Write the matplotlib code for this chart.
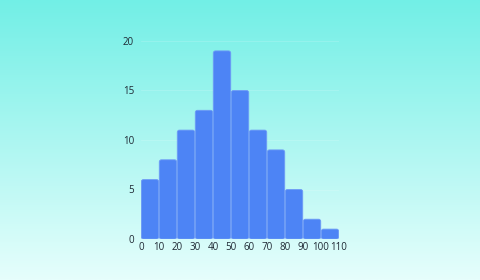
import numpy as np
import matplotlib.pyplot as plt
from matplotlib.patches import FancyBboxPatch

# Histogram data
bin_edges = [0, 10, 20, 30, 40, 50, 60, 70, 80, 90, 100, 110]
counts = [6, 8, 11, 13, 19, 15, 11, 9, 5, 2, 1]
y_ticks = [0, 5, 10, 15, 20]

plt.rcParams['font.family'] = ['Open Sans', 'DejaVu Sans']

fig = plt.figure(figsize=(4.8, 2.8), dpi=100)

# Background gradient
bg = fig.add_axes([0, 0, 1, 1], zorder=0)
top = np.array([0x72, 0xef, 0xe6]) / 255
bottom = np.array([0xe6, 0xfe, 0xfc]) / 255
t = np.linspace(0, 1, 256)[:, None]
grad = top * (1 - t) + bottom * t
bg.imshow(grad[:, None, :], aspect='auto', extent=[0, 1, 0, 1])
bg.axis('off')

ax = fig.add_axes([141 / 480, 1 - 239 / 280, 198 / 480, 198 / 280], zorder=1)
ax.patch.set_alpha(0)

widths = np.diff(bin_edges)
bars = ax.bar(bin_edges[:-1], counts, width=widths, align='edge',
              color='#4d84f5', linewidth=0)

# swap the plain bars for slightly rounded ones
for b in bars:
    x, y = b.get_xy()
    w, h = b.get_width(), b.get_height()
    b.set_visible(False)
    p = FancyBboxPatch((x + 0.15, y), w - 0.3, h,
                       boxstyle='round,pad=0,rounding_size=1.2',
                       mutation_aspect=0.18,
                       facecolor='#4d84f5', edgecolor='#6e9bf6',
                       linewidth=0.6, zorder=2)
    ax.add_patch(p)

ax.set_xlim(0, 110)
ax.set_ylim(0, 20)
ax.set_xticks(bin_edges)
ax.set_yticks(y_ticks)
ax.grid(axis='y', color='white', alpha=0.2, linewidth=0.5, zorder=0)
for s in ax.spines.values():
    s.set_visible(False)
ax.tick_params(length=0, labelsize=7, colors='#1e2833', pad=2)
ax.tick_params(axis='y', pad=5)

fig.savefig('out.png', dpi=100)
